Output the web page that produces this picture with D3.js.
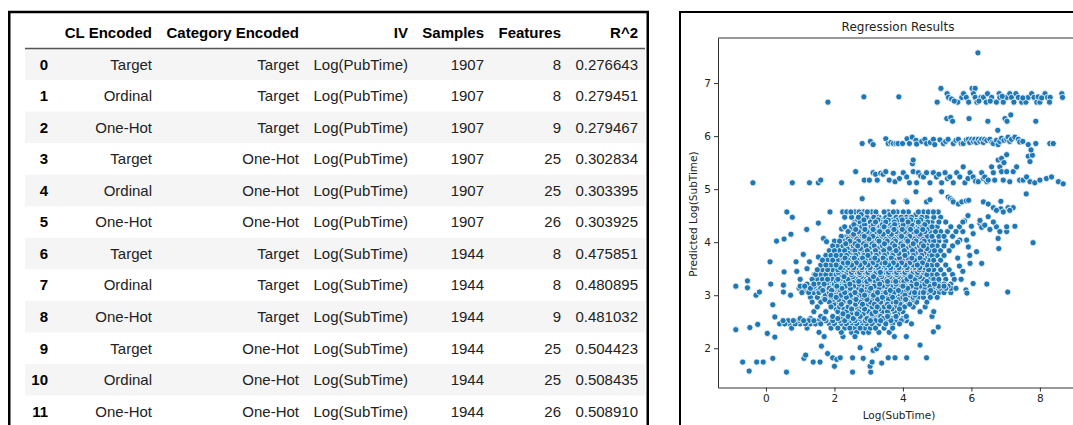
<!DOCTYPE html>
<html>
<head>
<meta charset="utf-8">
<script src="https://cdn.jsdelivr.net/npm/d3@7"></script>
<style>
body { margin: 0; background: #fff; }
</style>
</head>
<body>
<svg id="chart"></svg>
<script>
// ---- table data ----
var rowIndex = [0, 1, 2, 3, 4, 5, 6, 7, 8, 9, 10, 11];
var clEncoded = ["Target", "Ordinal", "One-Hot", "Target", "Ordinal", "One-Hot",
                 "Target", "Ordinal", "One-Hot", "Target", "Ordinal", "One-Hot"];
var categoryEncoded = ["Target", "Target", "Target", "One-Hot", "One-Hot", "One-Hot",
                       "Target", "Target", "Target", "One-Hot", "One-Hot", "One-Hot"];
var ivNames = ["Log(PubTime)", "Log(PubTime)", "Log(PubTime)", "Log(PubTime)", "Log(PubTime)", "Log(PubTime)",
               "Log(SubTime)", "Log(SubTime)", "Log(SubTime)", "Log(SubTime)", "Log(SubTime)", "Log(SubTime)"];
var samples = [1907, 1907, 1907, 1907, 1907, 1907, 1944, 1944, 1944, 1944, 1944, 1944];
var features = [8, 8, 9, 25, 25, 26, 8, 8, 9, 25, 25, 26];
var rSquared = ["0.276643", "0.279451", "0.279467", "0.302834", "0.303395", "0.303925",
                "0.475851", "0.480895", "0.481032", "0.504423", "0.508435", "0.508910"];
var headers = ["", "CL Encoded", "Category Encoded", "IV", "Samples", "Features", "R^2"];

// ---- scatter data: [Log(SubTime), Predicted Log(SubTime)] ----
var isolated = [[6.19,7.57],[1.81,6.64],[2.86,6.74],[3.88,6.74],
  [5.28,6.33],[5.4,6.35],[5.45,6.28],[5.93,6.33],[6.48,6.28],[6.98,6.33],[7.04,6.28],[7.15,6.4],[7.88,6.28],[6.77,6.11]];

var bandSeven = [[5.11,6.9],[5.29,6.8],[5.0,6.64],[5.33,6.73],[5.42,6.7],[5.6,6.64],[5.72,6.73],[5.77,6.8],
  [5.85,6.73],[5.92,6.64],[6.02,6.9],[6.11,6.9],[6.06,6.8],[6.11,6.73],[6.16,6.64],[6.28,6.73],[6.35,6.73],
  [6.47,6.8],[6.43,6.64],[6.59,6.73],[6.73,6.64],[6.81,6.8],[6.83,6.73],[6.93,6.64],[7.03,6.73],[7.12,6.8],
  [7.17,6.73],[7.24,6.64],[7.3,6.8],[7.37,6.73],[7.47,6.64],[7.59,6.64],[7.66,6.73],[7.76,6.8],[7.83,6.73],
  [7.91,6.64],[8.0,6.64],[8.15,6.8],[8.22,6.73],[8.3,6.73],[8.28,6.64],[8.64,6.8],[8.66,6.73],[5.5,6.66],
  [6.22,6.66],[6.55,6.66],[6.9,6.75],[7.5,6.72],[7.95,6.74],[8.05,6.72]];

var bandSix = [[2.81,5.86],[3.05,5.9],[3.13,5.84],[3.5,5.95],[3.57,5.86],[3.65,5.88],[3.72,5.86],[3.8,5.86],
  [3.86,5.86],[3.99,5.86],[4.12,5.95],[4.19,5.86],[4.27,5.98],[4.38,5.92],[4.4,5.85],[4.55,5.9],[4.64,5.94],
  [4.69,5.86],[4.8,5.88],[4.89,5.94],[4.93,5.84],[5.08,5.93],[5.18,5.86],[5.25,5.9],[5.32,5.94],[5.47,5.86],
  [5.55,5.92],[5.62,5.94],[5.7,5.86],[5.76,5.86],[5.85,5.93],[5.91,5.94],[5.95,5.88],[6.01,5.94],[6.06,5.9],
  [6.1,5.94],[6.15,5.88],[6.2,5.94],[6.25,5.9],[6.3,5.94],[6.35,5.88],[6.39,5.94],[6.45,5.92],[6.54,5.94],
  [6.6,5.88],[6.64,5.86],[6.73,5.92],[6.78,5.84],[6.83,5.9],[6.88,5.96],[6.95,5.92],[7.03,5.94],[7.07,5.98],
  [7.12,5.9],[7.17,5.94],[7.27,5.98],[7.37,5.94],[7.41,5.89],[7.5,5.9],[7.66,5.84],[7.88,5.86],[8.29,5.86],[8.39,5.86]];

var bandFive = [[2.62,5.33],[2.87,5.17],[3.02,5.17],[3.13,5.31],[3.2,5.28],[3.25,5.17],[3.35,5.3],[3.42,5.28],
  [3.5,5.33],[3.6,5.17],[3.72,5.3],[3.77,5.14],[3.9,5.2],[4.01,5.31],[4.11,5.23],[4.19,5.12],[4.28,5.48],
  [4.3,5.33],[4.4,5.12],[4.45,5.31],[4.52,5.25],[4.6,5.23],[4.69,5.31],[4.79,5.12],[4.89,5.31],[4.98,5.23],
  [5.05,5.28],[5.13,5.12],[5.23,5.31],[5.3,5.2],[5.37,5.23],[5.47,5.12],[5.57,5.31],[5.66,5.23],[5.76,5.42],
  [5.81,5.12],[5.9,5.2],[5.96,5.31],[6.05,5.23],[6.12,5.15],[6.2,5.14],[6.3,5.31],[6.35,5.2],[6.39,5.23],
  [6.45,5.14],[6.49,5.17],[6.59,5.42],[6.64,5.31],[6.68,5.17],[6.78,5.55],[6.83,5.42],[6.88,5.33],[6.93,5.17],
  [7.03,5.33],[7.12,5.14],[7.22,5.33],[7.32,5.42],[7.41,5.17],[7.51,5.17],[7.61,5.23],[7.71,5.14],[7.85,5.12],
  [8.0,5.17],[8.19,5.2],[8.34,5.23],[8.54,5.14],[8.68,5.1],[4.3,5.55],[6.88,5.58],[6.95,5.5],[7.03,5.65],
  [7.66,5.62],[7.71,5.52],[7.78,5.64],[7.74,5.74],[7.6,4.91],
  [-0.38,5.12],[0.77,5.12],[1.27,5.12],[1.53,5.12],[1.6,5.17],[2.21,5.12]];

var upperCluster = [[2.81,4.82],[3.72,4.76],[4.09,4.78],[4.12,4.76],[4.38,4.95],[4.69,4.76],[4.79,4.8],
  [5.13,4.95],[5.32,4.85],[5.38,4.82],[5.44,4.79],[5.47,4.76],[5.62,4.72],[5.72,4.76],[5.85,4.78],[5.92,4.79],
  [6.35,4.76],[6.49,4.72],[6.64,4.65],[6.86,4.77],[6.86,4.63],[7.07,4.65],[7.12,4.6],[7.22,4.65]];

var leftScatter = [[0.61,4.57],[0.77,4.47],[0.31,4.02],[0.53,4.06],[0.73,4.15],[1.19,4.24],[1.53,4.36],
  [1.87,4.57],[2.21,4.25],[1.68,4.07],[1.77,4.01],[0.12,3.63],[0.53,3.44],[0.88,3.63],[1.09,3.77],
  [1.27,3.63],[1.53,3.72],[1.41,3.39],[1.53,3.48],[-0.54,3.27],[-0.88,3.17],[-0.54,3.14],[-0.29,3.0],
  [-0.19,3.06],[0.14,3.21],[0.51,3.19],[0.51,3.06],[0.72,3.0],[0.97,3.13],[1.17,3.14],[0.2,2.82],[0.26,2.59],
  [1.0,3.3],[1.2,3.5],[0.9,3.45]];

var rightScatter = [[7.8,3.99],[7.27,4.3],[6.78,4.07],[7.03,4.2],[7.03,4.29],[6.73,4.29],[6.83,4.2],
  [6.54,4.24],[6.25,4.35],[6.3,4.28],[6.3,3.6],[6.15,3.82],[5.96,3.6],[5.91,3.91],[5.66,4.04],[5.86,4.04],
  [6.05,4.16],[6.8,3.88],[6.73,4.6],[6.93,4.57],[7.12,4.6],[6.49,4.48],[6.64,4.38],[6.25,4.41],[6.39,4.32],
  [5.84,3.1],[6.05,3.22],[6.45,3.21],[7.06,3.06],[5.87,3.04],[5.75,3.45],[5.7,3.3],[5.6,3.7],[5.65,3.55],
  [5.8,4.4],[5.9,4.5],[6.0,4.3],[5.75,4.2],[5.6,4.0],[5.95,3.75]];

var lowerScatter = [[-0.88,2.35],[-0.47,2.39],[-0.24,2.45],[0.04,2.28],[0.26,2.21],[-0.68,1.74],[-0.49,1.57],
  [-0.27,1.74],[-0.08,1.74],[0.2,1.81],[0.6,1.55],[1.11,1.81],[1.16,1.87],[1.38,1.74],[1.58,1.74],[1.62,2.04],
  [1.8,1.9],[1.95,1.82],[2.0,1.66],[2.07,1.79],[2.17,1.82],[2.53,1.82],[2.53,1.55],[2.84,1.81],[3.06,1.55],
  [3.04,1.66],[3.1,1.74],[2.75,2.01],[3.13,1.96],[3.23,1.99],[3.31,2.06],[3.38,1.72],[3.57,1.82],[3.77,1.82],
  [4.11,1.82],[4.69,1.82],[4.5,2.06],[4.89,2.31],[5.03,2.4]];

// dense body: [y, [x, x, ...]]
var clusterRows = [
  [4.57, [2.24,2.36,2.48,2.6,2.72,2.85,2.96,3.09,3.21,3.45,3.57,3.72,3.83,4.01,4.16,4.45,4.6,4.74,4.89,5.03]],
  [4.52, [2.78,3.22,3.62,4.06,4.38]],
  [4.47, [2.3,2.5,2.7,2.95,3.15,3.3,3.5,3.65,3.8,3.95,4.1,4.25,4.4,4.55,4.7,4.9,5.1]],
  [4.42, [2.68,2.86,3.08,3.27,3.43,3.57,3.71,3.86,3.98,4.11,4.23,4.37,4.52]],
  [4.38, [2.6,2.75,2.9,3.05,3.2,3.35,3.5,3.62,3.75,3.9,4.02,4.15,4.3,4.45,4.6,4.72,4.85,5.05,5.25,5.75]],
  [4.33, [2.57,2.73,2.88,3.02,3.14,3.27,3.4,3.52,3.64,3.76,3.89,4.01,4.14,4.26,4.38,4.51,4.64]],
  [4.29, [2.3,2.5,2.65,2.8,2.95,3.08,3.2,3.33,3.45,3.58,3.7,3.82,3.95,4.08,4.2,4.32,4.45,4.58,4.7,4.85,5.0,5.4,5.65]],
  [4.24, [2.49,2.62,2.76,2.89,3.01,3.13,3.26,3.38,3.5,3.62,3.74,3.86,3.98,4.1,4.22,4.34,4.46,4.58,4.71]],
  [4.2,  [2.4,2.55,2.7,2.82,2.95,3.07,3.2,3.32,3.44,3.56,3.68,3.8,3.92,4.04,4.16,4.28,4.4,4.52,4.64,4.78,4.95,5.1,5.3,5.55]],
  [4.15, [2.42,2.56,2.69,2.81,2.93,3.06,3.18,3.3,3.42,3.54,3.66,3.78,3.9,4.02,4.14,4.26,4.38,4.5,4.63]],
  [4.11, [2.2,2.35,2.5,2.62,2.75,2.87,3.0,3.12,3.24,3.36,3.48,3.6,3.72,3.84,3.96,4.08,4.2,4.32,4.44,4.56,4.7,4.85,5.05,5.2,5.45]],
  [4.06, [2.4,2.53,2.65,2.77,2.89,3.01,3.13,3.25,3.37,3.49,3.61,3.73,3.85,3.97,4.09,4.21,4.33,4.45,4.57,4.7]],
  [4.02, [2.0,2.15,2.3,2.45,2.58,2.7,2.82,2.94,3.06,3.18,3.3,3.42,3.54,3.66,3.78,3.9,4.02,4.14,4.26,4.38,4.5,4.62,4.75,4.9,5.05,5.25]],
  [3.97, [2.33,2.47,2.6,2.72,2.85,2.97,3.1,3.22,3.34,3.46,3.58,3.7,3.82,3.94,4.06,4.18,4.3,4.42,4.54,4.66]],
  [3.93, [1.95,2.1,2.25,2.4,2.55,2.68,2.8,2.92,3.04,3.16,3.28,3.4,3.52,3.64,3.76,3.88,4.0,4.12,4.24,4.36,4.48,4.6,4.72,4.86,5.0,5.2,5.45]],
  [3.88, [2.37,2.5,2.63,2.76,2.88,3.01,3.13,3.25,3.37,3.49,3.61,3.73,3.85,3.97,4.09,4.21,4.33,4.45,4.57,4.7]],
  [3.84, [1.85,2.0,2.15,2.3,2.45,2.6,2.72,2.84,2.96,3.08,3.2,3.32,3.44,3.56,3.68,3.8,3.92,4.04,4.16,4.28,4.4,4.52,4.64,4.78,4.92,5.1,5.35]],
  [3.79, [2.27,2.4,2.54,2.67,2.79,2.91,3.04,3.16,3.28,3.4,3.52,3.64,3.76,3.88,4.0,4.12,4.24,4.36,4.48,4.61]],
  [3.75, [1.75,1.9,2.05,2.2,2.35,2.5,2.62,2.74,2.86,2.98,3.1,3.22,3.34,3.46,3.58,3.7,3.82,3.94,4.06,4.18,4.3,4.42,4.55,4.7,4.85,5.0,5.2]],
  [3.7,  [2.31,2.45,2.58,2.7,2.82,2.94,3.06,3.18,3.3,3.42,3.54,3.66,3.78,3.9,4.02,4.14,4.26,4.38,4.5,4.64]],
  [3.66, [1.65,1.8,1.95,2.1,2.25,2.4,2.54,2.66,2.78,2.9,3.02,3.14,3.26,3.38,3.5,3.62,3.74,3.86,3.98,4.1,4.22,4.34,4.46,4.6,4.75,4.9,5.1]],
  [3.61, [2.26,2.39,2.52,2.64,2.76,2.88,3.0,3.12,3.24,3.36,3.48,3.6,3.72,3.84,3.96,4.08,4.2,4.32,4.44,4.57]],
  [3.57, [1.6,1.75,1.9,2.05,2.2,2.35,2.5,2.62,2.74,2.86,2.98,3.1,3.22,3.34,3.46,3.58,3.7,3.82,3.94,4.06,4.18,4.3,4.42,4.55,4.7,4.85,5.0,5.25]],
  [3.52, [2.17,2.3,2.43,2.56,2.68,2.8,2.92,3.04,3.16,3.28,3.4,3.52,3.64,3.76,3.88,4.0,4.12,4.24,4.36,4.49,4.63]],
  [3.48, [1.5,1.65,1.8,1.95,2.1,2.25,2.4,2.55,2.68,2.8,2.92,3.04,3.16,3.28,3.4,3.52,3.64,3.76,3.88,4.0,4.12,4.24,4.36,4.48,4.6,4.75,4.9,5.1,5.35]],
  [3.43, [2.11,2.24,2.37,2.5,2.62,2.74,2.86,2.98,3.1,3.22,3.34,3.46,3.58,3.7,3.82,3.94,4.06,4.18,4.3,4.43,4.57]],
  [3.39, [1.45,1.6,1.75,1.9,2.05,2.2,2.35,2.5,2.62,2.74,2.86,2.98,3.1,3.22,3.34,3.46,3.58,3.7,3.82,3.94,4.06,4.18,4.3,4.42,4.55,4.7,4.85,5.0,5.2,5.45]],
  [3.35, [2.01,2.14,2.28,2.41,2.54,2.66,2.78,2.9,3.02,3.14,3.26,3.38,3.5,3.62,3.74,3.86,3.98,4.1,4.22,4.35,4.49,4.63]],
  [3.3,  [1.35,1.5,1.65,1.8,1.95,2.1,2.25,2.4,2.55,2.68,2.8,2.92,3.04,3.16,3.28,3.4,3.52,3.64,3.76,3.88,4.0,4.12,4.24,4.36,4.48,4.6,4.75,4.9,5.05,5.25,5.5]],
  [3.26, [1.92,2.06,2.2,2.33,2.46,2.59,2.71,2.83,2.95,3.07,3.19,3.31,3.43,3.55,3.67,3.79,3.91,4.03,4.15,4.28,4.42,4.56,4.7]],
  [3.21, [1.2,1.4,1.55,1.7,1.85,2.0,2.15,2.3,2.45,2.6,2.72,2.84,2.96,3.08,3.2,3.32,3.44,3.56,3.68,3.8,3.92,4.04,4.16,4.28,4.4,4.52,4.64,4.78,4.92,5.06,5.2,5.4]],
  [3.17, [1.0,1.13,1.27,1.41,1.55,1.68,1.81,1.94,2.07,2.2,2.32,2.44,2.56,2.68,2.8,2.92,3.04,3.16,3.28,3.4,3.52,3.64,3.76,3.88,4.0,4.12,4.24,4.37,4.5,4.63,4.77,4.91,5.05,5.2,5.32]],
  [3.13, [1.3,1.45,1.6,1.72,1.85,1.98,2.1,2.22,2.34,2.46,2.58,2.7,2.82,2.94,3.06,3.18,3.3,3.42,3.54,3.66,3.78,3.9,4.02,4.14,4.26,4.38,4.5,4.62,4.74,4.86,4.98,5.1,5.25,5.4,5.55]],
  [3.09, [1.12,1.26,1.4,1.53,1.66,1.79,1.92,2.05,2.18,2.31,2.43,2.55,2.67,2.79,2.91,3.03,3.15,3.27,3.39,3.51,3.63,3.75,3.87,3.99,4.11,4.24,4.37,4.51,4.66,4.81]],
  [3.05, [1.05,1.25,1.4,1.55,1.7,1.85,2.0,2.15,2.3,2.45,2.6,2.75,2.9,3.02,3.14,3.26,3.38,3.5,3.62,3.74,3.86,3.98,4.1,4.22,4.34,4.46,4.6,4.75,4.9,5.05,5.2,5.4]],
  [3.0,  [1.74,1.9,2.05,2.19,2.33,2.47,2.61,2.75,2.88,3.01,3.14,3.27,3.4,3.53,3.66,3.79,3.92,4.06,4.2,4.35]],
  [2.96, [1.3,1.5,1.7,1.9,2.05,2.2,2.35,2.5,2.65,2.8,2.95,3.1,3.25,3.4,3.55,3.7,3.85,4.0,4.15,4.3,4.45,4.6,4.8,5.0]],
  [2.92, [1.72,1.95,2.12,2.3,2.47,2.63,2.79,2.95,3.1,3.26,3.42,3.58,3.74,3.9,4.08,4.28]],
  [2.87, [1.35,1.6,1.85,2.05,2.25,2.45,2.6,2.75,2.9,3.05,3.2,3.35,3.5,3.65,3.8,3.95,4.15,4.4,4.7]],
  [2.83, [1.98,2.2,2.42,2.62,2.82,3.0,3.17,3.35,3.55,3.73,3.92,4.2]],
  [2.78, [1.5,1.9,2.15,2.4,2.6,2.8,2.95,3.1,3.25,3.45,3.6,3.8,4.05,4.3,4.65]],
  [2.74, [2.05,2.28,2.5,2.68,2.88,3.08,3.3,3.5,3.68,3.9]],
  [2.69, [1.4,1.75,2.1,2.35,2.55,2.7,2.85,3.0,3.2,3.4,3.55,3.75,4.0,4.5,4.9]],
  [2.65, [2.25,2.48,2.66,2.84,3.1,3.32,3.58,3.85]],
  [2.6,  [1.6,1.95,2.2,2.4,2.6,2.75,2.9,3.05,3.2,3.35,3.55,3.8,4.1,4.85]],
  [2.56, [1.0,1.3,1.7,2.1,2.38,2.55,2.72,2.95,3.15,3.42,3.7,4.0]],
  [2.52, [0.5,0.65,0.8,0.95,1.1,1.25,1.4,1.55,1.75,1.95,2.15,2.3,2.45,2.6,2.75,2.9,3.05,3.2,3.35,3.5,3.65,3.8,3.95,4.1]],
  [2.46, [0.4,0.55,0.7,0.85,1.0,1.15,1.3,1.45,1.6,1.85,2.0,2.2,2.35,2.5,2.65,2.8,2.95,3.1,3.3,3.5,3.7,3.9,4.25]],
  [2.38, [0.75,1.2,1.9,2.1,2.3,2.45,2.6,2.75,2.9,3.05,3.2,3.45,3.7]],
  [2.3,  [1.55,2.2,2.5,2.65,2.85,3.0,3.3,3.6]],
  [2.22, [1.7,2.25,2.6,3.75,4.1]]
];

var xTicks = [0, 2, 4, 6, 8];
var yTicks = [2, 3, 4, 5, 6, 7];

var width = 1073;
var height = 425;

var svg = d3.select('#chart')
    .attr('width', width)
    .attr('height', height);

// ================= TABLE =================
var colRight = [48, 152, 299, 408, 484, 561, 638];
var rowTop = 48.5, rowH = 31.55;
var tableFont = "'Liberation Sans', Arial, sans-serif";

var table = svg.append('g');

table.selectAll('rect.stripe')
    .data(rowIndex.filter(function (d) { return d % 2 === 0; }))
  .enter().append('rect')
    .attr('class', 'stripe')
    .attr('x', 25)
    .attr('y', function (d) { return rowTop + d * rowH; })
    .attr('width', 620)
    .attr('height', rowH)
    .style('fill', '#f5f5f5');

table.append('line')
    .attr('x1', 25).attr('x2', 645)
    .attr('y1', rowTop).attr('y2', rowTop)
    .style('stroke', '#555').style('stroke-width', 1.3);

table.selectAll('text.head')
    .data(headers)
  .enter().append('text')
    .attr('class', 'head')
    .attr('x', function (d, i) { return colRight[i]; })
    .attr('y', 37.5)
    .attr('text-anchor', 'end')
    .style('font-family', tableFont)
    .style('font-size', '15px')
    .style('font-weight', 'bold')
    .style('fill', '#000')
    .text(function (d) { return d; });

var rows = rowIndex.map(function (i) {
  return [String(rowIndex[i]), clEncoded[i], categoryEncoded[i], ivNames[i],
          String(samples[i]), String(features[i]), rSquared[i]];
});

rows.forEach(function (r, i) {
  table.selectAll('text.r' + i)
      .data(r)
    .enter().append('text')
      .attr('class', 'r' + i)
      .attr('x', function (d, j) { return colRight[j]; })
      .attr('y', rowTop + i * rowH + rowH / 2 + 5.3)
      .attr('text-anchor', 'end')
      .style('font-family', tableFont)
      .style('font-size', '15px')
      .style('font-weight', function (d, j) { return j === 0 ? 'bold' : 'normal'; })
      .style('fill', function (d, j) { return j === 0 ? '#000' : '#222'; })
      .text(function (d) { return d; });
});

// table frame
table.append('rect')
    .attr('x', 9.25).attr('y', 12)
    .attr('width', 638.5).attr('height', 500)
    .style('fill', 'none').style('stroke', '#000').style('stroke-width', 2.5);

// ================= SCATTER =================
var panel = svg.append('g');
panel.append('rect')
    .attr('x', 680).attr('y', 12)
    .attr('width', 500).attr('height', 500)
    .style('fill', 'none').style('stroke', '#000').style('stroke-width', 2);

var x = d3.scaleLinear().domain([-1.4, 9.2]).range([718, 1081]);
var y = d3.scaleLinear().domain([1.26, 7.85]).range([387.5, 38]);

var core = [];
clusterRows.forEach(function (r) {
  r[1].forEach(function (v) { core.push([v, r[0]]); });
});
// draw order only: interleave rows so overlaps don't stack in one direction
core = core.map(function (d, i) { return {p: d, k: (i * 467) % core.length}; })
    .sort(function (a, b) { return a.k - b.k; })
    .map(function (o) { return o.p; });

var points = isolated.concat(bandSeven, bandSix, bandFive, upperCluster, leftScatter,
                             rightScatter, lowerScatter, core);

svg.append('clipPath').attr('id', 'axclip')
  .append('rect').attr('x', 718).attr('y', 38).attr('width', 363).attr('height', 349.5);

svg.append('g')
    .attr('clip-path', 'url(#axclip)')
  .selectAll('circle.pt')
    .data(points)
  .enter().append('circle')
    .attr('class', 'pt')
    .attr('cx', function (d) { return x(d[0]); })
    .attr('cy', function (d) { return y(d[1]); })
    .attr('r', 3.1)
    .style('fill', '#1f77b4')
    .style('stroke', '#fff')
    .style('stroke-width', 0.8);

var axisFont = "'DejaVu Sans', sans-serif";

var xAxis = svg.append('g')
    .attr('transform', 'translate(0,387.5)')
    .call(d3.axisBottom(x).tickValues(xTicks).tickFormat(d3.format('d'))
      .tickSize(4).tickSizeOuter(0).tickPadding(3));
var yAxis = svg.append('g')
    .attr('transform', 'translate(718,0)')
    .call(d3.axisLeft(y).tickValues(yTicks).tickFormat(d3.format('d'))
      .tickSize(4).tickSizeOuter(0).tickPadding(3));

[xAxis, yAxis].forEach(function (a) {
  a.select('.domain').style('stroke', '#333').style('stroke-width', 1);
  a.selectAll('.tick line').style('stroke', '#333').style('stroke-width', 1);
  a.selectAll('.tick text')
      .style('font-family', axisFont)
      .style('font-size', '10.5px')
      .style('fill', '#222');
});

// top spine
svg.append('line')
    .attr('x1', 718).attr('x2', 1081)
    .attr('y1', 38).attr('y2', 38)
    .style('stroke', '#333').style('stroke-width', 1);

svg.append('text')
    .attr('x', 898).attr('y', 31)
    .attr('text-anchor', 'middle')
    .style('font-family', axisFont)
    .style('font-size', '12px')
    .style('fill', '#222')
    .text('Regression Results');

svg.append('text')
    .attr('x', 899).attr('y', 419)
    .attr('text-anchor', 'middle')
    .style('font-family', axisFont)
    .style('font-size', '10.5px')
    .style('fill', '#222')
    .text('Log(SubTime)');

svg.append('text')
    .attr('transform', 'translate(697,214) rotate(-90)')
    .attr('text-anchor', 'middle')
    .style('font-family', axisFont)
    .style('font-size', '10.5px')
    .style('fill', '#222')
    .text('Predicted Log(SubTime)');
</script>
</body>
</html>
